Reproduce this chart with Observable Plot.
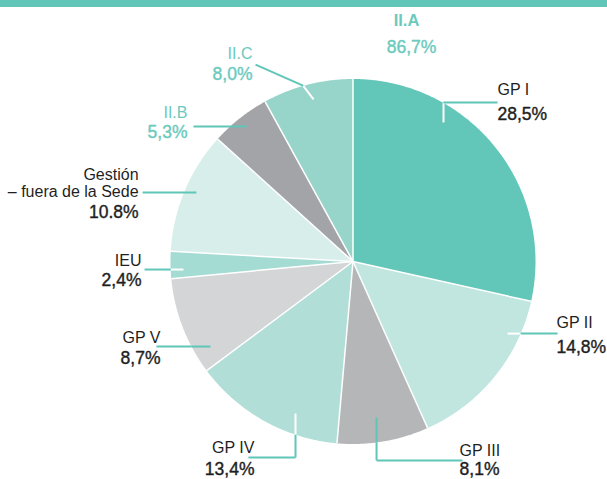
<!DOCTYPE html>
<html><head><meta charset="utf-8">
<script src="https://cdn.jsdelivr.net/npm/d3@7"></script>
<script src="https://cdn.jsdelivr.net/npm/@observablehq/plot@0.6"></script>
<style>
body{margin:0;background:#fff;}
#bar{height:7px;background:#61c5b8;}
#chart svg{display:block;}
</style></head><body>
<div id="bar"></div>
<div id="chart"></div>
<script>
// ---- data ----
const categories = ["GP I","GP II","GP III","GP IV","GP V","IEU","Gestión\n– fuera de la Sede","II.B","II.C"];
const values = [28.5,14.8,8.1,13.4,8.7,2.4,10.8,5.3,8.0];
const valueLabels = ["28,5%","14,8%","8,1%","13,4%","8,7%","2,4%","10.8%","5,3%","8,0%"];
const sliceColors = ["#62c6b9","#c0e6df","#b5b6b8","#b1dfd8","#d4d5d7","#a4dbd2","#d8eeea","#a3a4a8","#97d5cb"];
const groupName = "II.A";
const groupValue = "86,7%";

// ---- layout (pie units: centre = 0,0, radius = 1) ----
const W = 607, H = 472, CX = 352.5, CY = 254, R = 182.5;
const TEAL = "#5fc6b8", TEAL_TEXT = "#6bcabd", DARK = "#1f1f1f";
const labelLayout = [
  {anchor:"start", x:0.792, ny:0.910, vy:0.773, leader:[[0.496,0.762],[0.496,0.871],[0.792,0.871]], innerWhite:true},
  {anchor:"start", x:1.115, ny:-0.362, vy:-0.499, leader:[[0.847,-0.395],[1.121,-0.395]], innerWhite:true},
  {anchor:"start", x:0.584, ny:-1.068, vy:-1.172, leader:[[0.129,-0.855],[0.129,-1.090],[0.600,-1.090]], innerWhite:false},
  {anchor:"end", x:-0.540, ny:-1.052, vy:-1.168, leader:[[-0.315,-0.833],[-0.315,-1.074],[-0.573,-1.074]], innerWhite:true},
  {anchor:"end", x:-1.055, ny:-0.444, vy:-0.559, leader:[[-0.781,-0.466],[-1.077,-0.466]], innerWhite:false},
  {anchor:"end", x:-1.159, ny:-0.022, vy:-0.132, leader:[[-0.929,-0.044],[-1.142,-0.044]], innerWhite:true},
  {anchor:"end", x:-1.175, ny:0.351, vy:0.236, leader:[[-0.858,0.378],[-1.153,0.378]], innerWhite:false},
  {anchor:"end", x:-0.907, ny:0.784, vy:0.674, leader:[[-0.584,0.740],[-0.874,0.740]], innerWhite:false, teal:true},
  {anchor:"end", x:-0.551, ny:1.112, vy:0.992, leader:[[-0.216,0.888],[-0.274,0.964],[-0.534,1.079]], innerWhite:true, teal:true}
];
const groupLayout = {nx:0.293, ny:1.288, vx:0.321, vy:1.140};

// ---- geometry ----
const total = d3.sum(values);
const slices = [];
let acc = 0;
categories.forEach((c, i) => {
  const a0 = acc / total * 2 * Math.PI;
  acc += values[i];
  const a1 = acc / total * 2 * Math.PI;
  slices.push({name: c, a0, a1, i});
});
const polyPts = [];
slices.forEach(s => {
  polyPts.push({name: s.name, x: 0, y: 0});
  const n = Math.max(2, Math.ceil((s.a1 - s.a0) / (Math.PI / 360)));
  for (let k = 0; k <= n; k++) {
    const a = s.a0 + (s.a1 - s.a0) * k / n;
    polyPts.push({name: s.name, x: Math.sin(a), y: Math.cos(a)});
  }
});
const bounds = slices.map(s => ({a: s.a0}));

// leader segments split at circle
const tealSegs = [], whiteSegs = [];
function circleT(p, q) {
  const dx = q[0]-p[0], dy = q[1]-p[1];
  const a = dx*dx+dy*dy, b = 2*(p[0]*dx+p[1]*dy), c = p[0]*p[0]+p[1]*p[1]-1;
  const disc = Math.sqrt(Math.max(0, b*b-4*a*c));
  const t1 = (-b - disc)/(2*a), t2 = (-b + disc)/(2*a);
  return [t1, t2].filter(t => t > 0 && t < 1)[0];
}
labelLayout.forEach(L => {
  for (let k = 0; k < L.leader.length - 1; k++) {
    const p = L.leader[k], q = L.leader[k+1];
    const inP = Math.hypot(p[0],p[1]) < 1, inQ = Math.hypot(q[0],q[1]) < 1;
    const inside = L.innerWhite ? whiteSegs : tealSegs;
    if (inP && inQ) inside.push({x1:p[0],y1:p[1],x2:q[0],y2:q[1]});
    else if (!inP && !inQ) tealSegs.push({x1:p[0],y1:p[1],x2:q[0],y2:q[1]});
    else {
      const t = circleT(p, q);
      const m = [p[0]+(q[0]-p[0])*t, p[1]+(q[1]-p[1])*t];
      const segA = {x1:p[0],y1:p[1],x2:m[0],y2:m[1]}, segB = {x1:m[0],y1:m[1],x2:q[0],y2:q[1]};
      if (inP) { inside.push(segA); tealSegs.push(segB); }
      else { tealSegs.push(segA); inside.push(segB); }
    }
  }
});

const labels = categories.map((c, i) => ({
  name: c, value: valueLabels[i], ...labelLayout[i]
}));

const font = "Liberation Sans, Arial, Helvetica, sans-serif";
const textMarks = [];
["start","end"].forEach(anchor => {
  const dk = labels.filter(d => d.anchor === anchor && !d.teal);
  const tl = labels.filter(d => d.anchor === anchor && d.teal);
  textMarks.push(
    Plot.text(dk, {x:"x", y:"ny", text:"name", textAnchor:anchor, lineAnchor:"bottom", lineHeight:1.07, fontSize:16, fill:DARK, fontFamily:font}),
    Plot.text(dk, {x:"x", y:"vy", text:"value", textAnchor:anchor, lineAnchor:"bottom", fontSize:17.5, fill:DARK, stroke:DARK, strokeWidth:0.4, fontFamily:font}),
    Plot.text(tl, {x:"x", y:"ny", text:"name", textAnchor:anchor, lineAnchor:"bottom", fontSize:16, fill:TEAL_TEXT, fontFamily:font}),
    Plot.text(tl, {x:"x", y:"vy", text:"value", textAnchor:anchor, lineAnchor:"bottom", fontSize:17.5, fill:TEAL_TEXT, stroke:TEAL_TEXT, strokeWidth:0.4, fontFamily:font})
  );
});
const grp = [{name: groupName, value: groupValue, ...groupLayout}];
textMarks.push(
  Plot.text(grp, {x:"nx", y:"ny", text:"name", textAnchor:"middle", lineAnchor:"bottom", fontSize:16.5, fontWeight:"bold", fill:TEAL_TEXT, fontFamily:font}),
  Plot.text(grp, {x:"vx", y:"vy", text:"value", textAnchor:"middle", lineAnchor:"bottom", fontSize:17.5, fill:TEAL_TEXT, stroke:TEAL_TEXT, strokeWidth:0.4, fontFamily:font})
);

const chart = Plot.plot({
  width: W, height: H,
  marginTop: 0, marginRight: 0, marginBottom: 0, marginLeft: 0,
  style: {fontFamily: font, background: "white"},
  x: {domain: [(0 - CX) / R, (W - CX) / R], range: [0, W], axis: null},
  y: {domain: [(CY - H) / R, CY / R], range: [H, 0], axis: null},
  color: {domain: categories, range: sliceColors},
  marks: [
    Plot.line(polyPts, {x:"x", y:"y", z:"name", fill:"name", stroke:"none", curve:"linear-closed"}),
    Plot.link(bounds, {x1: d => 0, y1: d => 0, x2: d => Math.sin(d.a), y2: d => Math.cos(d.a), stroke:"white", strokeWidth:1.5}),
    Plot.link(whiteSegs, {x1:"x1", y1:"y1", x2:"x2", y2:"y2", stroke:"white", strokeWidth:2}),
    Plot.link(tealSegs, {x1:"x1", y1:"y1", x2:"x2", y2:"y2", stroke:TEAL, strokeWidth:2}),
    ...textMarks
  ]
});
document.getElementById("chart").appendChild(chart);
</script>
</body></html>
